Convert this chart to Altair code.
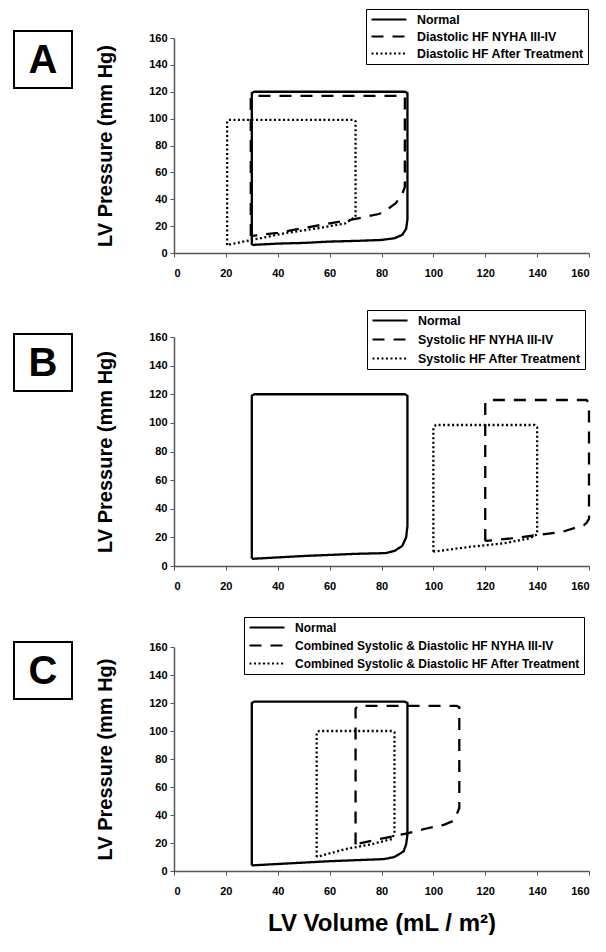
import altair as alt
import pandas as pd

# ---------------- data ----------------
A_names = ["Normal", "Diastolic HF NYHA III-IV", "Diastolic HF After Treatment"]
A_normal_vol = [30, 30, 31, 89, 90, 90, 89.5, 88, 85, 80, 70, 60, 50, 40, 30]
A_normal_p = [6, 119, 120, 120, 119, 25, 18, 13.5, 11, 9.7, 9, 8.5, 7.5, 7, 6]
A_hf_vol = [29.6, 29.6, 30.5, 88, 89, 89, 88, 85.5, 82, 79, 74, 69, 60, 50, 40, 29.6]
A_hf_p = [12.6, 116, 117, 117, 116, 49, 44, 37, 32, 29, 27, 25, 22, 18.6, 15, 12.6]
A_trt_vol = [20.5, 20.5, 21, 69.5, 70, 70, 66, 56, 43, 30, 20.5]
A_trt_p = [6, 98, 99, 99, 98, 27, 22, 18.6, 14.8, 9.7, 6]

B_names = ["Normal", "Systolic HF NYHA III-IV", "Systolic HF After Treatment"]
B_normal_vol = [30, 30, 31, 89, 90, 90, 89.5, 88, 85, 81.5, 70, 50, 30]
B_normal_p = [5, 119, 120, 120, 119, 28, 20, 14, 10.5, 9, 8.5, 7, 5]
B_hf_vol = [120, 120, 121, 159, 160, 160, 159, 158, 150, 140, 130, 120]
B_hf_p = [17.5, 114, 116, 116, 114, 33, 30, 28.5, 24, 21.6, 19.3, 17.5]
B_trt_vol = [100, 100, 101, 139, 140, 140, 137, 127, 114, 100]
B_trt_p = [10, 97, 98.5, 98.5, 97, 22, 19.3, 15.8, 13.4, 10]

C_names = ["Normal", "Combined Systolic & Diastolic HF NYHA III-IV",
           "Combined Systolic & Diastolic HF After Treatment"]
C_normal_vol = [30, 30, 31, 89, 90, 90, 89.5, 88.5, 85, 81, 60, 40, 30]
C_normal_p = [4, 120, 121, 121, 120, 26, 19, 14, 10, 8.5, 7, 5, 4]
C_hf_vol = [70, 70, 71, 109, 110, 110, 108, 104, 96.5, 89, 79, 70]
C_hf_p = [19, 116, 118, 118, 117, 45, 36, 33, 30, 26.5, 22.8, 19]
C_trt_vol = [55, 55, 56, 84, 85, 85, 84, 76.4, 66, 55]
C_trt_p = [10, 99, 100, 100, 99, 27, 22.8, 19.2, 15.6, 10]

x_ticks = [0, 20, 40, 60, 80, 100, 120, 140, 160]
y_ticks = [0, 20, 40, 60, 80, 100, 120, 140, 160]

FONT = "Liberation Sans"


def panel(letter, names, vols, press, height, legend_x, legend_y, box_y0,
          row_pad, label_size, show_xtitle, extra_bottom=0):
    field = "series_" + letter
    rows = []
    for name, v, p in zip(names, vols, press):
        for i, (a, b) in enumerate(zip(v, p)):
            rows.append({field: name, "vol": a, "pres": b, "i": i})
    df = pd.DataFrame(rows)

    xaxis = alt.Axis(values=x_ticks, tickSize=4, labelPadding=10,
                     title="LV Volume (mL / m²)" if show_xtitle else None)
    yaxis = alt.Axis(values=y_ticks, tickSize=4, labelPadding=3,
                     title="LV Pressure (mm Hg)")

    lines = alt.Chart(df).mark_line(color="black", strokeWidth=2.3).encode(
        x=alt.X("vol:Q", scale=alt.Scale(domain=[0, 160], nice=False), axis=xaxis),
        y=alt.Y("pres:Q", scale=alt.Scale(domain=[0, 160], nice=False), axis=yaxis),
        strokeDash=alt.StrokeDash(
            field + ":N",
            scale=alt.Scale(domain=names, range=[[1, 0], [12, 9], [2, 2.5]]),
            legend=alt.Legend(
                title=None, orient="none", legendX=legend_x, legendY=legend_y,
                strokeColor="black", fillColor="white", padding=4,
                labelFont=FONT, labelFontSize=label_size, labelFontWeight="bold",
                labelColor="black", labelLimit=600, symbolType="stroke",
                symbolSize=1225, symbolStrokeWidth=2.2, symbolStrokeColor="black",
                clipHeight=13, rowPadding=row_pad, labelOffset=9,
            ),
        ),
        order=alt.Order("i:Q"),
    )

    lab = alt.Chart(pd.DataFrame({"k": [letter]}))
    box = lab.mark_rect(fillOpacity=0, stroke="black", strokeWidth=2).encode(
        x=alt.value(-160), x2=alt.value(-102),
        y=alt.value(box_y0), y2=alt.value(box_y0 + 57),
    )
    txt = lab.mark_text(fontSize=40, fontWeight="bold", font=FONT,
                        baseline="middle", align="center", color="black").encode(
        x=alt.value(-131), y=alt.value(box_y0 + 30), text="k:N"
    )
    layers = [lines, box, txt]
    if extra_bottom:
        spacer = lab.mark_rule(strokeOpacity=0).encode(
            x=alt.value(0), y=alt.value(height + extra_bottom - 1),
            y2=alt.value(height + extra_bottom),
        )
        layers.append(spacer)
    return alt.layer(*layers).properties(width=415, height=height)


pA = panel("A", A_names, [A_normal_vol, A_hf_vol, A_trt_vol],
           [A_normal_p, A_hf_p, A_trt_p], 215, 192, -29, -7, 4, 12.4, False, 31)
pB = panel("B", B_names, [B_normal_vol, B_hf_vol, B_trt_vol],
           [B_normal_p, B_hf_p, B_trt_p], 229, 193, -27, -3, 6, 12.4, False)
pC = panel("C", C_names, [C_normal_vol, C_hf_vol, C_trt_vol],
           [C_normal_p, C_hf_p, C_trt_p], 224, 70, -30, -5, 5, 12.0, True)

chart = alt.vconcat(pA, pB, pC, spacing=25).resolve_scale(
    strokeDash="independent"
).resolve_legend(strokeDash="independent").configure_axis(
    labelFont=FONT, labelFontWeight="bold", labelFontSize=11, labelColor="black",
    domainColor="#555", tickColor="#555", domainWidth=1.5, grid=False,
    titleFont=FONT, titleFontWeight="bold", titleColor="black",
).configure_axisY(titleFontSize=20, titlePadding=33).configure_axisX(
    titleFontSize=24, titlePadding=15
).configure_view(strokeWidth=0).properties(
    padding={"left": 5, "top": 0, "right": 0, "bottom": 0}
)

chart.save("out.html", embed_options={"renderer": "svg", "actions": False})
